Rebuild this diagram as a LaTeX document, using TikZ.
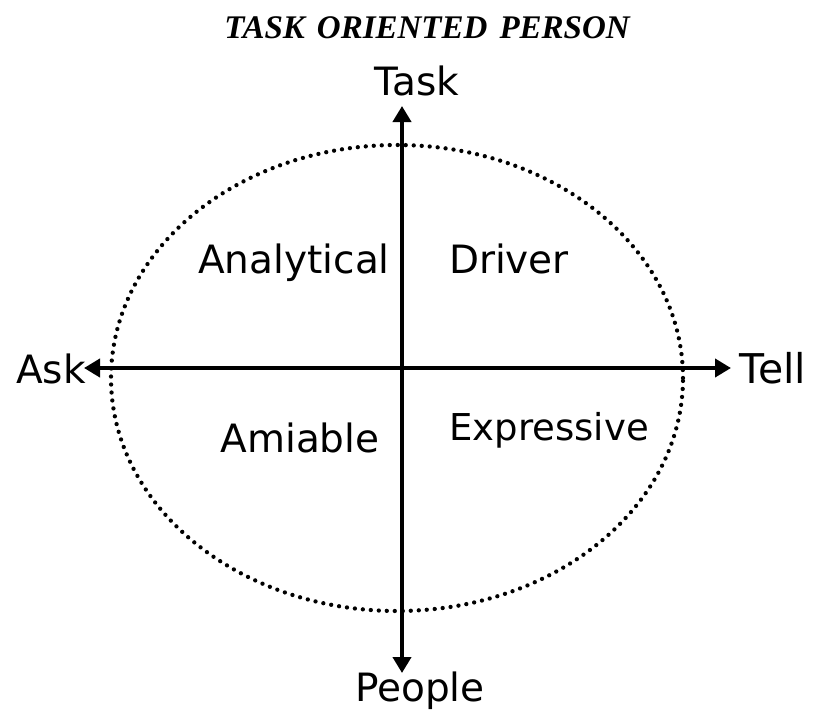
\documentclass[tikz,border=0pt]{standalone}
\usepackage{fontspec}
\setmainfont{DejaVu Sans}
\newfontfamily\titlefont{Liberation Serif}
\usetikzlibrary{arrows.meta,shapes.geometric}
\begin{document}
\begin{tikzpicture}[x=1pt,y=-1pt,
  axis/.style={line width=4.2pt,{Triangle[length=16pt,width=18pt]}-{Triangle[length=16pt,width=18pt]}},
  ring/.style={draw,ellipse,inner sep=0pt,line width=4.3pt,line cap=round,dash pattern=on 0pt off 8pt},
  lbl/.style={inner sep=0pt,anchor=base,font=\fontsize{39}{42}\selectfont},
  ttl/.style={inner sep=0pt,anchor=base,font=\titlefont\bfseries\itshape\fontsize{33}{36}\selectfont}]
  \useasboundingbox (0,0) rectangle (817,710);
  % dotted outline around the quadrants
  \node[ring,minimum width=572pt,minimum height=466pt] (oval) at (397,378) {};
  % axes
  \coordinate (top) at (402,106);
  \coordinate (bottom) at (402,673);
  \coordinate (left) at (84,368);
  \coordinate (right) at (731,368);
  \draw[axis] (bottom) -- (top);
  \draw[axis] (left) -- (right);
  % heading
  \node[ttl] (title) at (427,38) {TASK\hspace{12pt}ORIENTED\hspace{12pt}PERSON};
  % axis ends
  \node[lbl] (task) at (417,95) {Task};
  \node[lbl] (people) at (420,701) {People};
  \node[lbl] (ask) at (51,383) {Ask};
  \node[lbl,font=\fontsize{41}{44}\selectfont] (tell) at (773,383) {Tell};
  % quadrants
  \node[lbl] (analytical) at (294,273) {Analytical};
  \node[lbl] (driver) at (509,273) {Driver};
  \node[lbl] (amiable) at (300,452) {Amiable};
  \node[lbl,font=\fontsize{37}{40}\selectfont] (expressive) at (549,440) {Expressive};
\end{tikzpicture}
\end{document}
